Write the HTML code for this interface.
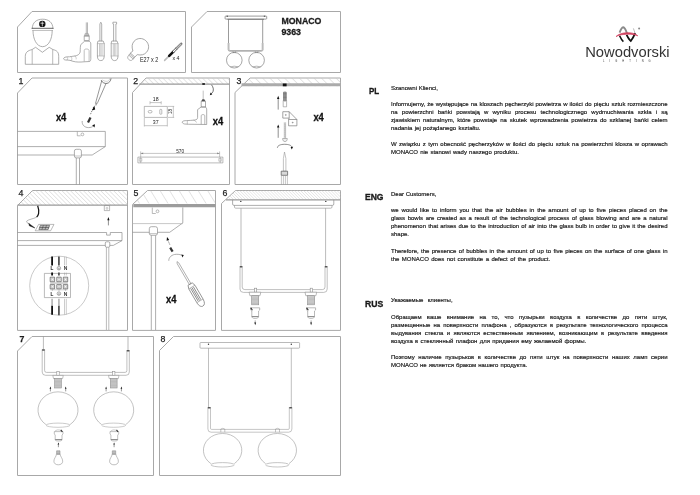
<!DOCTYPE html>
<html><head><meta charset="utf-8">
<style>
html,body{margin:0;padding:0;background:#fff;}
body{width:700px;height:495px;position:relative;overflow:hidden;font-family:"Liberation Sans",sans-serif;color:#222;}
svg{position:absolute;left:0;top:0;will-change:transform;}
.t{will-change:transform;position:absolute;left:390.5px;width:276.5px;font-size:6px;line-height:8px;white-space:nowrap;color:#1a1a1a;-webkit-text-stroke:0.18px #1a1a1a;}
.j{text-align:justify;text-align-last:justify;white-space:normal;}
.h{will-change:transform;position:absolute;font-weight:bold;font-size:9.4px;line-height:10px;color:#111;}
</style></head><body>
<svg width="700" height="495" viewBox="0 0 700 495">
<defs>
<pattern id="hatch" width="3.05" height="3.05" patternUnits="userSpaceOnUse" patternTransform="rotate(-45)">
<line x1="0" y1="0" x2="0" y2="3.05" stroke="#c6c6c6" stroke-width="0.85"/>
</pattern>
<pattern id="hatchB" width="2.15" height="2.15" patternUnits="userSpaceOnUse" patternTransform="rotate(-45)">
<line x1="0" y1="0" x2="0" y2="2.15" stroke="#cfcfcf" stroke-width="0.8"/>
</pattern>
<pattern id="hatchC" width="8.1" height="8.1" patternUnits="userSpaceOnUse" patternTransform="translate(150,190.5) rotate(-31.6)">
<line x1="0" y1="0" x2="0" y2="8.1" stroke="#bdbdbd" stroke-width="0.8"/>
</pattern>
<pattern id="hatchD" width="3.5" height="3.5" patternUnits="userSpaceOnUse" patternTransform="rotate(-45)">
<line x1="0" y1="0" x2="0" y2="3.5" stroke="#c6c6c6" stroke-width="0.9"/>
</pattern>
<pattern id="hatchE" width="5.2" height="5.2" patternUnits="userSpaceOnUse" patternTransform="rotate(-45)">
<line x1="0" y1="0" x2="0" y2="5.2" stroke="#c4c4c4" stroke-width="0.9"/>
</pattern>
</defs>
<g fill="none" stroke="#a8a8a8" stroke-width="1">
<!-- top boxes -->
<path d="M32,11.5 H185.5 V72.5 H17.5 V27 Z"/>
<path d="M207,11.5 H340.5 V72.5 H191.5 V27 Z"/>
<!-- row1 -->
<path d="M32,78 H127.5 V184.5 H17.5 V93 Z"/>
<path d="M146,78 H229.5 V184.5 H132.5 V92.5 Z"/>
<path d="M250,78 H340.5 V184.5 H235 V92.5 Z"/>
<!-- row2 -->
<path d="M32.5,190.5 H127.5 V330.4 H17.5 V205.5 Z"/>
<path d="M147.5,190.5 H215.5 V330.4 H132.5 V204.5 Z"/>
<path d="M235.5,190.5 H340.5 V330.4 H221.5 V203.5 Z"/>
<!-- row3 -->
<path d="M32,336.5 H153.5 V475.5 H17.5 V351 Z"/>
<path d="M173.5,336.5 H340.5 V475.5 H159.5 V350.5 Z"/>
</g>
<!-- ===== TOP BOX 1 ICONS ===== -->
<g fill="none" stroke="#8c8c8c" stroke-width="0.7" stroke-linejoin="round" stroke-linecap="round">
<!-- worker -->
<path d="M32.3,28.3 C32.3,22.5 36.5,19.2 42.6,19.2 C48.7,19.2 52.9,22.5 52.9,28.3"/>
<path d="M32,28.3 H53.2" stroke="#555" stroke-width="0.9"/><path d="M32.6,30.5 H52.6" stroke="#999" stroke-width="0.6"/>
<path d="M33,30.8 C33,39 36.5,46.5 42.6,46.7 C48.7,46.5 52.2,39 52.2,30.8"/>
<path d="M25.3,63.9 V56.5 C25.3,52.3 27.8,50.6 32,49.6 L35.6,47.3 L42.4,52.3 L49.2,47.3 L53,49.6 C57.2,50.6 58.7,52.3 58.7,56.5 V63.9 Z"/>
<path d="M32.2,50 V63.9 M52.7,50 V63.9" stroke-width="0.6"/>
<circle cx="42.3" cy="23.9" r="3.2" fill="#111" stroke="none"/>
<path d="M42.3,21.8 V26 M40.8,23.2 H43.8" stroke="#fff" stroke-width="0.7"/>
<!-- drill -->
<path d="M86.3,22.8 V33.3 M87.5,22.8 V33.3" stroke="#999"/>
<path d="M85.6,33.4 H88.2 L89.2,36 H84.6 Z" fill="#bbb" stroke-width="0.5"/>
<path d="M84.6,36 H89.2 V40.6 H84.6 Z"/>
<path d="M84.4,41.4 L80.8,44.6 C80.3,46 80.2,49 80.2,52 C79.5,54.5 77.5,55.5 75,56 C72,56.2 70,57 68,56.8 C65.5,56.8 63.8,57.5 63.6,58.6 C63.6,59.6 65,60.2 67,60 C69,60 71,60.5 73,61.3 C76,62.2 80,62.2 84,61.8 L89.5,61.5 C90.5,61.3 90.8,60 90.8,58.5 V44 C90.8,42.6 90.3,41.8 89.5,41.4 Z"/>
<path d="M84.2,61 V50.5 C84.2,49.5 85,49 86.5,49 C88,49 89.1,49.6 89.1,50.8 V61" stroke-width="0.55"/>
<path d="M67,57.2 C68,58.2 68,59.2 67,60 M71,56.6 C72.2,57.6 72.2,59.6 71.2,60.6 M75,56 C76,57 76.4,58 76.2,59" stroke-width="0.45"/>
<!-- screwdriver 1 (phillips) -->
<path d="M99.9,41 V24 L100.8,22.2 L101.7,24 V41"/>
<path d="M98.4,41 H103.2 L104.2,43.6 V56 C104.2,59 103,60.6 100.8,60.6 C98.6,60.6 97.4,59 97.4,56 V43.6 Z"/>
<path d="M97.4,43.6 H104.2 M97.4,56 H104.2 M99.5,44 V55.5 M100.8,44 V55.5 M102.1,44 V55.5" stroke-width="0.45"/>
<!-- screwdriver 2 (flat) -->
<path d="M113.6,41 V24 H112.9 V22.2 H116.6 V24 H115.9 V41"/>
<path d="M112.2,41 H117 L118,43.6 V56 C118,59 116.8,60.6 114.6,60.6 C112.4,60.6 111.2,59 111.2,56 V43.6 Z"/>
<path d="M111.2,43.6 H118 M111.2,56 H118 M113.3,44 V55.5 M114.6,44 V55.5 M115.9,44 V55.5" stroke-width="0.45"/>
<!-- bulb -->
<g transform="translate(140.1,47) rotate(42)">
<path d="M-3,7.6 C-6.5,5.6 -8.3,3 -8.3,-0.3 C-8.3,-5 -4.6,-8.5 0,-8.5 C4.6,-8.5 8.3,-5 8.3,-0.3 C8.3,3 6.5,5.6 3,7.6 L2.8,11 H-2.8 Z"/>
<path d="M-2.8,11 V14.6 C-2.8,16.2 -1.5,16.9 0,16.9 C1.5,16.9 2.8,16.2 2.8,14.6 V11 M-2.8,12.3 H2.8 M-2.8,13.6 H2.8" stroke-width="0.6"/>
</g>
<!-- anchor/screw -->
<path d="M164.6,60.4 L169.4,55.6" stroke="#bbb" stroke-width="1.5"/>
<path d="M169.2,55.8 L173.2,51.8" stroke="#111" stroke-width="2.6"/>
<path d="M173.4,51.6 L176.6,48.4" stroke="#333" stroke-width="2.4"/>
<path d="M173.5,51.5 L176.5,48.5" stroke="#fff" stroke-width="1.2"/>
<path d="M176.6,48.4 L181.2,43.8" stroke="#555" stroke-width="2.4"/>
<path d="M176.6,48.4 L181.2,43.8" stroke="#bbb" stroke-width="1.6" stroke-dasharray="0.5,0.9"/>
</g>
<g font-family="Liberation Sans" font-size="6.6" fill="#222">
<text x="139.9" y="61.9" textLength="18.3" lengthAdjust="spacingAndGlyphs">E27 x 2</text>
<text x="172.4" y="59.9" font-size="5.4" textLength="7" lengthAdjust="spacingAndGlyphs">x 4</text>
</g>

<!-- ===== TOP BOX 2 LAMP ===== -->
<g fill="none" stroke="#707070" stroke-width="0.7">
<rect x="225.1" y="16.1" width="41.6" height="3" rx="0.6"/>
<path d="M227.5,19.3 H264" stroke="#777" stroke-width="0.9"/>
<path d="M228.5,19.3 V43 M262.7,19.3 V43"/>
<path d="M228.1,43 V49.5 Q228.1,51.3 230,51.3 H261.2 Q263.1,51.3 263.1,49.5 V43 M229,43 V49.5 Q229,50.5 230,50.5 H261.2 Q262.2,50.5 262.2,49.5 V43" stroke-width="0.5"/>
<circle cx="234.3" cy="60.2" r="7.8" stroke="#808080"/>
<circle cx="256.6" cy="60.2" r="7.8" stroke="#808080"/>
<path d="M230.3,66.8 Q234.3,65.6 238.3,66.8 M252.6,66.8 Q256.6,65.6 260.6,66.8" stroke-width="0.5"/>
<path d="M233,51.3 V52.6 H235.6 V51.3 M255.3,51.3 V52.6 H257.9 V51.3" stroke-width="0.5"/>
</g>
<rect x="226.6" y="15.7" width="1.4" height="1" fill="#444"/>
<rect x="263.8" y="15.7" width="1.4" height="1" fill="#444"/>

<!-- ===== LOGO ===== -->
<g>
<path d="M619.6,32.6 C620.6,29.8 621.8,27.4 623.2,27.2 C624.8,27.4 626,30.2 627.2,33.8" fill="none" stroke="#8a8a8a" stroke-width="1.9"/>
<path d="M619.6,35.8 C620.8,38.5 622,40.5 623.4,41.6" fill="none" stroke="#111" stroke-width="1.6"/>
<path d="M626.6,34.8 C628,37.5 629.5,40 630.8,41 C632.5,39 634,36 635.2,33.2" fill="none" stroke="#111" stroke-width="1.8"/>
<path d="M635,33.4 C634.6,31.6 634,30 633.4,28.4" fill="none" stroke="#999" stroke-width="0.7"/>
<path d="M616,36.6 C620,32 633,31 637.8,35.8 C633,33.4 621,33.6 616,36.6 Z" fill="#d0405e" stroke="#d0405e" stroke-width="0.7"/>
<circle cx="639.1" cy="28.4" r="1" fill="#888"/>
<text x="585.2" y="57" font-family="Liberation Sans" font-size="13.8" fill="#333" textLength="84.4" lengthAdjust="spacingAndGlyphs">Nowodvorski</text>
<text x="603" y="62.2" font-family="Liberation Sans" font-size="2.6" fill="#333" textLength="47.6" lengthAdjust="spacing">LIGHTING</text>
</g>

<!-- ===== CEILINGS (hatched) ===== -->
<g stroke="none">
<path d="M139.6,84.3 L146,78 H229.5 V84.3 Z" fill="url(#hatchD)"/>
<path d="M241.8,86.3 L250,78 H340.5 V86.3 Z" fill="url(#hatchE)"/>
<path d="M17.5,205.3 L32.5,190.5 H127.5 V205.3 Z" fill="url(#hatch)"/>
<path d="M133.9,203.5 L147.5,190.5 H215.5 V203.5 Z" fill="url(#hatchC)"/>
<path d="M226.3,199.8 L235.5,190.5 H340.5 V199.8 Z" fill="url(#hatchB)"/>
</g>
<g fill="none" stroke="#9a9a9a">
<path d="M139.3,84.2 H229.5" stroke-width="1.2"/>
<path d="M241.5,84.8 H340.5" stroke-width="3" stroke="#ababab"/>
<path d="M17.5,205.2 H127.5" stroke-width="1.3"/>
<path d="M133.3,205.6 H215.5" stroke-width="3.4" stroke="#9c9c9c"/>
<path d="M226,199.8 H340.5" stroke-width="1.3"/>
</g>

<!-- ===== PANEL 1 ===== -->
<g fill="none" stroke="#8c8c8c" stroke-width="0.7" stroke-linejoin="round">
<path d="M17.5,131.4 H105.3 V146.6 L92.2,155 H17.5"/>
<path d="M17.5,146.6 H105.3"/>
<path d="M77.3,131.6 V135.8 H80.6" stroke-width="0.6"/>
<circle cx="82.4" cy="134.4" r="1.4" stroke-width="0.6"/>
<rect x="74.4" y="149.3" width="7" height="8.6" rx="1.8" fill="#fff"/>
<path d="M74.4,156 H81.4" stroke-width="0.5"/>
<path d="M76.3,157.9 V184.5 M79.5,157.9 V184.5"/>
<!-- screwdriver -->
<path d="M101.8,80.5 L95.5,103.3 M106.1,83.3 L97.6,102.7" stroke="#6a6a6a" stroke-width="0.7"/>
<path d="M95.5,103.3 L97.6,102.7 L95.9,105.6 Z" fill="#999" stroke="#999" stroke-width="0.5"/>
<path d="M101.2,80.2 C102.2,82.6 104.8,83.8 107,83.4 C109.2,83 110.8,80.8 111,78.4" stroke="#555" stroke-width="0.75"/>
<path d="M102.6,79.8 C104,81.2 106,81.6 107.6,81.2 C108.8,80.8 109.6,79.6 109.7,78.5" stroke="#aaa" stroke-width="0.5"/>
<path d="M93.6,107 L90.4,114.5" stroke="#222" stroke-width="0.6" stroke-dasharray="1.2,1"/>
<path d="M94.3,105.6 L92,110.6 L95.2,109.5 Z" fill="#111" stroke="none"/>
<path d="M90.5,117.6 L88,122.5" stroke="#333" stroke-width="2.2"/>
<path d="M82.2,121 C81.8,124.8 84.5,127.6 88.6,127.6 C90.6,127.6 92.3,127 93.4,126"/>
<path d="M95,124.3 L92.2,125.2 L94.5,127.4 Z" fill="#111" stroke="none"/>
</g>
<text x="55.9" y="120.7" font-family="Liberation Sans" font-weight="bold" font-size="10" fill="#111" stroke="#111" stroke-width="0.3" textLength="10.4" lengthAdjust="spacingAndGlyphs">x4</text>

<!-- ===== PANEL 2 ===== -->
<g fill="none" stroke="#8c8c8c" stroke-width="0.6" stroke-linejoin="round">
<rect x="144.3" y="106.4" width="23" height="11" />
<rect x="148.2" y="110.5" width="3.8" height="2.4" rx="1.2"/>
<rect x="159.8" y="109.4" width="2" height="4.8" rx="0.6"/>
<path d="M150,102.6 H161.2 M150,101.2 V104.4 M161.2,101.2 V104.4" stroke-width="0.5"/>
<path d="M144.3,118 V126.5 M167.3,118 V126.5 M144.3,125.7 H167.3" stroke-width="0.5"/>
<path d="M167.8,106.4 H174.2 M167.8,117.4 H174.2 M173.3,106.4 V117.4" stroke-width="0.5"/>
<!-- drill -->
<path d="M203.2,90.6 V99.3" stroke="#999"/>
<path d="M202.4,99.2 H204.3 L205.4,101.3 H201.3 Z" fill="#444" stroke="none"/>
<path d="M201.2,101.2 H205.5 V107 H201.2 Z" stroke="#777"/>
<path d="M201.2,107 L197.6,109.6 V117.5 C197.6,119 196.5,119.8 195,120 C192,120.3 189,120.6 186.5,120.6 C184.5,120.6 183,120.9 182.3,121.8 C182,122.8 183,123.6 184.5,124 C187,124.4 190,124.2 193,124.3 L206.7,124.5 V108.8 L205.5,107 Z" stroke="#777"/>
<path d="M201.2,124.3 V115.8 C201.2,115 202,114.6 203,114.6 C204,114.6 204.8,115 204.8,115.8 V124.3" stroke="#777" stroke-width="0.55"/>
<path d="M187.3,120.6 V124.3 M193.5,120.2 C195,120.5 196,121.5 196.5,122.5" stroke-width="0.5"/>
<path d="M211.5,84.8 C213.2,87 213.8,89.5 213,91.5 C212.5,92.8 211.6,93.6 210.8,94" stroke="#333" stroke-width="0.7"/>
<path d="M209.8,95.2 L210.5,92.6 L212.3,94.4 Z" fill="#222" stroke="none"/>
<!-- bar 570 -->
<rect x="137.9" y="157.1" width="85" height="5.8"/>
<path d="M140.7,157.1 V162.9 M220.2,157.1 V162.9" stroke-width="0.5"/>
<rect x="139.3" y="158.4" width="2.5" height="2.8" stroke-width="0.45"/>
<rect x="218.8" y="158.4" width="2.5" height="2.8" stroke-width="0.45"/>
<path d="M140.7,153.4 H219.6 M140.7,151.4 V157 M219.6,151.4 V157" stroke-width="0.5"/>
<path d="M140.7,153.4 L143.2,152.6 V154.2 Z M219.6,153.4 L217.1,152.6 V154.2 Z" fill="#888" stroke="none"/>
</g>
<rect x="202.3" y="83.2" width="2.6" height="1.6" fill="#111"/>
<g font-family="Liberation Sans" font-size="5.6" fill="#222">
<text x="152.8" y="100.9" textLength="5.8" lengthAdjust="spacingAndGlyphs">18</text>
<text x="152.8" y="123.8" textLength="5.8" lengthAdjust="spacingAndGlyphs">37</text>
<text x="176.2" y="153" font-size="5.2" textLength="8" lengthAdjust="spacingAndGlyphs">570</text>
<text transform="translate(172.1,114) rotate(-90)" font-size="4.8" textLength="5.2" lengthAdjust="spacingAndGlyphs">18</text>
</g>
<text x="212.8" y="124.7" font-family="Liberation Sans" font-weight="bold" font-size="10" fill="#111" stroke="#111" stroke-width="0.3" textLength="10.4" lengthAdjust="spacingAndGlyphs">x4</text>

<!-- ===== PANEL 3 ===== -->
<g fill="none" stroke="#8c8c8c" stroke-width="0.6" stroke-linejoin="round">
<path d="M283.6,92 H286.2 V101 H283.6 Z" fill="#aaa" stroke="#666"/>
<path d="M283.2,93.4 H286.6 M283.2,94.8 H286.6 M283.2,96.2 H286.6 M283.2,97.6 H286.6 M283.2,99 H286.6" stroke-width="0.5" stroke="#555"/>
<path d="M283.2,100.5 H286.6 V106.8 H283.2 Z"/>
<path d="M278.2,109.6 V97.6" stroke="#333" stroke-width="0.55"/>
<path d="M278.2,95.8 L277,99 H279.4 Z" fill="#111" stroke="none"/>
<rect x="282.8" y="111.7" width="6.4" height="6.4" stroke="#666"/>
<path d="M289.2,111.7 L296.9,119.5 V125.8 H288.6 V119.5 H296.9 M289.2,118.1 L288.6,119.5" stroke="#666"/>
<circle cx="285.8" cy="114.9" r="0.5" fill="#999"/>
<circle cx="292.7" cy="122.6" r="0.5" fill="#999"/>
<path d="M278.2,137.8 V126" stroke="#333" stroke-width="0.55"/>
<path d="M278.2,124.4 L277,127.6 H279.4 Z" fill="#111" stroke="none"/>
<path d="M284.3,122.3 V138.5 M285.6,122.3 V138.5" stroke="#999"/>
<path d="M284.3,124 L285.6,125 M284.3,126 L285.6,127 M284.3,128 L285.6,129 M284.3,130 L285.6,131 M284.3,132 L285.6,133 M284.3,134 L285.6,135 M284.3,136 L285.6,137" stroke-width="0.4"/>
<path d="M282.6,138.5 H287.3 C287.3,140.6 286.3,141.6 285,141.6 C283.6,141.6 282.6,140.6 282.6,138.5 Z" fill="#eee"/>
<path d="M277.4,147.8 C277.4,145.6 280.4,144.3 284.6,144.3 C288.8,144.3 291.6,145.4 291.9,147.2" stroke="#444"/>
<path d="M290.6,147 L293.1,146.8 L291.8,149.4 Z" fill="#111" stroke="none"/>
<!-- vertical screwdriver -->
<path d="M284.5,152 L283.4,158.6 V171.2 H285.9 V158.6 Z" stroke="#999"/>
<path d="M281.2,171.2 H287.6 V175.3 H281.2 Z" fill="#d8d8d8" stroke="#555" stroke-width="0.7"/>
<path d="M281.4,175.3 V184.5 M287.4,175.3 V184.5 M283.4,175.6 V184.5 M285.4,175.6 V184.5" stroke-width="0.5"/>
</g>
<rect x="282.8" y="83.5" width="3.8" height="2.8" fill="#111"/>
<text x="313.4" y="120.6" font-family="Liberation Sans" font-weight="bold" font-size="10" fill="#111" stroke="#111" stroke-width="0.3" textLength="10.4" lengthAdjust="spacingAndGlyphs">x4</text>

<!-- ===== PANEL 4 ===== -->
<g fill="none" stroke="#8c8c8c" stroke-width="0.7" stroke-linejoin="round">
<path d="M17.5,232.5 H106.6 V235.1 H110.3 V232.5 H122 V240.6 L113.3,245.4 H17.5"/>
<path d="M17.5,240.6 H122"/>
<rect x="104.3" y="205.6" width="5.3" height="5" stroke-width="0.6"/>
<rect x="106.2" y="207.6" width="1.6" height="1.6" stroke-width="0.4"/>
<path d="M108.4,225.4 V219" stroke="#333" stroke-width="0.55"/>
<path d="M108.4,217 L107.3,220.2 H109.5 Z" fill="#111" stroke="none"/>
<rect x="105.3" y="241.8" width="4.5" height="5.4" rx="1.2" fill="#fff"/>
<path d="M106.4,247.2 V330 M108.8,247.2 V330" stroke-width="0.6"/>
<!-- wire from ceiling -->
<path d="M37.7,205.8 C38.6,208.5 39.2,211 38.6,213.5 C38.2,215.2 37.5,216.3 36.6,217.2" stroke="#111" stroke-width="1.2"/>
<path d="M36.6,217.2 C33,219 28.5,219.4 26.8,221 C26,222.2 27.5,223.2 29.2,223.8" stroke="#888" stroke-width="0.6"/>
<path d="M28.8,223.4 L34.8,227.9 L29.4,225.8 Z" fill="#111" stroke="#111" stroke-width="0.5"/>
<path d="M35.2,230.8 L38.6,224.4 H54 L50.6,230.8 Z" stroke-width="0.6"/>
<path d="M40.3,225.4 H49.6 L48.1,229.6 H38.9 Z" stroke="#444" stroke-width="0.6" fill="#bbb"/>
<path d="M43.4,225.4 L41.9,229.6 M46.5,225.4 L45,229.6 M39.6,227.5 H48.9" stroke="#333" stroke-width="0.5"/>
<!-- detail circle -->
<circle cx="59.2" cy="285.7" r="29.5" stroke="#a6a6a6" stroke-width="0.6"/>
<rect x="44.4" y="273.4" width="26.1" height="24.2" stroke-width="0.6"/>
<g stroke="#444" stroke-width="0.65" fill="#fff">
<rect x="50.2" y="277.2" width="4.4" height="4.5"/><rect x="56.8" y="277.2" width="4.4" height="4.5"/><rect x="63.3" y="277.2" width="4.4" height="4.5"/>
<rect x="50.2" y="284.6" width="4.4" height="4.2"/><rect x="56.8" y="284.6" width="4.4" height="4.2"/><rect x="63.3" y="284.6" width="4.4" height="4.2"/>
</g>
<g stroke="#888" stroke-width="0.4">
<rect x="51.4" y="278.4" width="2" height="2"/><rect x="58" y="278.4" width="2" height="2"/><rect x="64.5" y="278.4" width="2" height="2"/>
<rect x="51.4" y="285.7" width="2" height="2"/><rect x="58" y="285.7" width="2" height="2"/><rect x="64.5" y="285.7" width="2" height="2"/>
<path d="M50.2,283.2 H67.7 M50.2,289.8 H67.7 M52.4,288.8 V291 M59,288.8 V291 M65.5,288.8 V291"/>
</g>
<path d="M50.2,282.9 H67.7" stroke-width="0.4"/>
<!-- wires -->
<path d="M52.1,256.6 V265.4 M52.1,272.6 V275.4 M52.1,305.6 V314.8" stroke="#111" stroke-width="1.8"/>
<path d="M52.1,298.8 V305.6" stroke="#bbb" stroke-width="1.8"/>
<path d="M58.9,256.4 V265.4 M58.9,272.6 V275.4 M58.9,305.6 V315.2" stroke="#555" stroke-width="1.8"/>
<path d="M58.9,298.8 V305.6" stroke="#bbb" stroke-width="1.8"/>
<path d="M64.5,256.8 V265.4 M66.3,256.8 V265.4 M64.5,298.8 V314.6 M66.3,298.8 V314.6 M64.5,272.6 V275.4 M66.3,272.6 V275.4" stroke="#999" stroke-width="0.5"/>
<circle cx="58.9" cy="268.2" r="1.8" stroke="#666" stroke-width="0.5"/>
<circle cx="58.9" cy="293.6" r="1.8" stroke="#666" stroke-width="0.5"/>
<path d="M57.6,268.6 H60.2 M58,269.3 H59.8 M58.9,266.8 V268.6 M57.6,294 H60.2 M58,294.7 H59.8 M58.9,292.2 V294" stroke="#666" stroke-width="0.35"/>
</g>
<g font-family="Liberation Sans" font-size="5" fill="#222" stroke="#222" stroke-width="0.15">
<text x="50.6" y="270.2">L</text><text x="63.8" y="270.2">N</text>
<text x="50.6" y="295.7">L</text><text x="63.8" y="295.7">N</text>
</g>

<!-- ===== PANEL 5 ===== -->
<g fill="none" stroke="#8c8c8c" stroke-width="0.7" stroke-linejoin="round">
<path d="M182.8,207.4 V222.9 L169.7,232.3 H132.5"/>
<path d="M132.5,223.6 H182.8" stroke="#b0b0b0"/>
<path d="M152.3,207.6 V213.5 H155.8" stroke-width="0.6"/>
<circle cx="157.5" cy="211.3" r="1.4" stroke-width="0.6"/>
<rect x="149.3" y="226.7" width="8.2" height="8.6" rx="2" fill="#fff"/>
<path d="M149.3,233.6 H157.5" stroke-width="0.5"/>
<path d="M151.3,235.3 V330 M155.6,235.3 V330"/>
<path d="M169.8,244.6 L167.8,240" stroke="#222" stroke-width="0.6" stroke-dasharray="1.2,0.9"/>
<path d="M167,237 L166.6,240.8 L169.2,239.8 Z" fill="#111" stroke="none"/>
<path d="M170.2,247.6 L172.6,251.6" stroke="#333" stroke-width="2.2"/>
<path d="M168.8,260.8 C168.6,257.2 172,254.4 176.2,254.3 C179,254.2 181.3,254.8 182.4,255.6"/>
<path d="M183.8,255 L181.4,254.6 L182.4,257.6 Z" fill="#111" stroke="none"/>
<!-- screwdriver -->
<g transform="translate(177,261.6) rotate(-30.3)">
<path d="M0,0 L-0.9,2 V26 H0.9 V2 Z" stroke="#999"/>
<path d="M-2.4,26 H2.4 L3.6,29.5 V45.5 C3.6,49.4 2,51.5 0,51.5 C-2,51.5 -3.6,49.4 -3.6,45.5 V29.5 Z" stroke="#777"/>
<path d="M-3.6,29.5 H3.6 M-3.6,45.5 H3.6" stroke-width="0.5"/>
<path d="M-1.7,30 V45 M-0.2,30 V45 M1.4,30 V45" stroke="#555" stroke-width="0.6"/>
</g>
</g>
<text x="166.1" y="303" font-family="Liberation Sans" font-weight="bold" font-size="10" fill="#111" stroke="#111" stroke-width="0.3" textLength="10.4" lengthAdjust="spacingAndGlyphs">x4</text>

<!-- ===== PANEL 6 ===== -->
<g fill="none" stroke="#8c8c8c" stroke-width="0.7" stroke-linejoin="round">
<path d="M232.6,199.9 V204 Q232.6,205.4 234,205.4 H332.4 Q333.8,205.4 333.8,204 V199.9"/>
<path d="M234.5,205.4 V207 Q234.5,208.2 235.7,208.2 H330.8 Q332,208.2 332,207 V205.4" stroke-width="0.6"/>
<path d="M241,208.2 V266 M325.6,208.2 V266" stroke-width="0.6"/>
<path d="M240,266 V289 Q240,292.4 243.4,292.4 H323.8 Q327.2,292.4 327.2,289 V266 M242.2,266 V287 Q242.2,289.6 244.8,289.6 H322.4 Q325,289.6 325,287 V266" stroke-width="0.55"/>
<path d="M239.9,266.8 H242.3 M324.9,266.8 H327.3" stroke="#555" stroke-width="1.4"/>
</g>
<circle cx="240.8" cy="201.4" r="0.7" fill="#333"/>
<circle cx="325.8" cy="201.4" r="0.7" fill="#333"/>
<g id="sock6" fill="none" stroke="#8c8c8c" stroke-width="0.6">
<rect x="254.3" y="288.2" width="2.4" height="4" fill="#fff"/>
<path d="M249.1,292.2 H260.8 L260,295.7 H249.9 Z" fill="#fff"/>
<rect x="251.7" y="295.7" width="7" height="9.1" fill="#d6d6d6"/>
<path d="M251.7,297 H258.7 M251.7,298.3 H258.7 M251.7,299.6 H258.7 M251.7,300.9 H258.7 M251.7,302.2 H258.7 M251.7,303.5 H258.7" stroke="#999" stroke-width="0.4"/>
<path d="M250.6,307.8 H259.7 V310 L258.6,311 V316.5 C258.6,317.6 257.6,318.4 255.2,318.4 C252.8,318.4 251.8,317.6 251.8,316.5 V311 L250.6,310 Z"/>
<path d="M251.8,316.6 H258.6" stroke="#777" stroke-width="0.9"/>
<path d="M250.7,307.8 L252.4,310.2" stroke="#222" stroke-width="1.1"/>
<path d="M255.2,320.4 V323" stroke="#555" stroke-width="0.5"/>
<path d="M255.2,325.2 L254.3,322.4 H256.1 Z" fill="#111" stroke="none"/>
</g>
<use href="#sock6" transform="translate(55.9,0)"/>

<!-- ===== PANEL 7 ===== -->
<g fill="none" stroke="#8c8c8c" stroke-width="0.6" stroke-linejoin="round">
<path d="M43.4,336.5 V349.4 M128,336.5 V350.2"/>
<path d="M42.2,349.4 V372 Q42.2,375.3 45.5,375.3 H126 Q129.3,375.3 129.3,372 V350.2 M44.6,349.4 V370.5 Q44.6,372.4 46.5,372.4 H125 Q126.9,372.4 126.9,370.5 V350.2" stroke-width="0.55"/>
<path d="M42.1,350 H44.7 M126.8,350.8 H129.4" stroke="#555" stroke-width="1.4"/>
</g>
<g id="sock7" fill="none" stroke="#8c8c8c" stroke-width="0.55">
<rect x="56.8" y="371.4" width="2.4" height="4" fill="#fff"/>
<path d="M52.8,375.4 H63.3 L62.6,378.6 H53.5 Z" fill="#fff"/>
<rect x="54.6" y="378.6" width="6.8" height="9.4" fill="#d0d0d0"/>
<path d="M54.6,380 H61.4 M54.6,381.4 H61.4 M54.6,382.8 H61.4 M54.6,384.2 H61.4 M54.6,385.6 H61.4 M54.6,387 H61.4" stroke="#999" stroke-width="0.4"/>
<path d="M50.4,391.4 V388.4 M65.7,391.4 V388.4" stroke="#333" stroke-width="0.5"/>
<path d="M50.4,386.6 L49.6,388.8 H51.2 Z M65.7,386.6 L64.9,388.8 H66.5 Z" fill="#111" stroke="none"/>
<path d="M46,424.6 A20,18.2 0 1,1 70,424.6" stroke="#9a9a9a" stroke-width="0.6"/>
<ellipse cx="58" cy="425.2" rx="12" ry="2.1" stroke="#a0a0a0" stroke-width="0.55"/>
<path d="M54.3,431.6 H63 V434 L62,435 V439.6 C62,440.6 61,441 58.6,441 C56.2,441 55.2,440.6 55.2,439.6 V435 L54.3,434 Z"/>
<path d="M55.2,439.6 H62" stroke="#777" stroke-width="0.9"/>
<path d="M54.8,431.4 C56,429.8 58.6,429.4 61.4,430.6" stroke-width="0.45"/><path d="M60.8,429.8 L62.4,431.8" stroke="#333" stroke-width="1.1"/>
<path d="M58.4,447.2 V444.2" stroke="#333" stroke-width="0.5"/>
<path d="M58.4,442.4 L57.6,444.6 H59.2 Z" fill="#111" stroke="none"/>
<path d="M56.6,450.8 H60 V454.2 H56.6 Z" fill="#bbb"/>
<path d="M56.4,454.2 C56.4,456.6 53.9,458.2 53.9,461.2 C53.9,463.6 55.9,464.8 58.3,464.8 C60.7,464.8 62.7,463.6 62.7,461.2 C62.7,458.2 60.2,456.6 60.2,454.2 Z"/>
</g>
<use href="#sock7" transform="translate(55.7,0)"/>

<!-- ===== PANEL 8 ===== -->
<g fill="none" stroke="#8c8c8c" stroke-width="0.6" stroke-linejoin="round">
<rect x="200" y="342.5" width="99.6" height="5.7" rx="0.8"/>
<path d="M208.5,348.2 V407.1 M291.3,348.2 V407.1" stroke-width="0.55"/>
<path d="M207.9,407.1 V429 Q207.9,432.2 211.1,432.2 H288.7 Q291.9,432.2 291.9,429 V407.1 M210.5,407.1 V428.3 Q210.5,429.4 211.6,429.4 H288.2 Q289.3,429.4 289.3,428.3 V407.1" stroke-width="0.5"/>
<path d="M207.9,407.8 H210.5 M289.3,407.8 H291.9" stroke="#555" stroke-width="1.4"/>
<path d="M220.8,432.2 V429 Q222.8,427.6 224.8,429 V432.2" stroke-width="0.5"/>
<path d="M275.5,432.2 V429 Q277.5,427.6 279.5,429 V432.2" stroke-width="0.5"/>
<path d="M210.9,463.6 A19.2,16.8 0 1,1 234.3,463.6" stroke="#9a9a9a"/>
<ellipse cx="222.6" cy="464.8" rx="11.7" ry="2.2" stroke="#a0a0a0" stroke-width="0.6"/>
<path d="M265.6,463.6 A19.2,16.8 0 1,1 289,463.6" stroke="#9a9a9a"/>
<ellipse cx="277.3" cy="464.8" rx="11.7" ry="2.2" stroke="#a0a0a0" stroke-width="0.6"/>
</g>
<circle cx="208.5" cy="344.2" r="0.7" fill="#333"/>
<circle cx="291.3" cy="344.2" r="0.7" fill="#333"/>

<!-- labels -->
<g font-family="Liberation Sans" font-size="8.8" fill="#1e1e1e" stroke="#1e1e1e" stroke-width="0.25">
<text x="18.6" y="83.8">1</text>
<text x="133.3" y="83.8">2</text>
<text x="236.4" y="83.8">3</text>
<text x="18.6" y="195.9">4</text>
<text x="133.6" y="195.9">5</text>
<text x="222.4" y="196.2">6</text>
<text x="19.6" y="341.8" font-weight="bold">7</text>
<text x="160.6" y="341.9">8</text>
</g>
<!-- MONACO -->
<g font-family="Liberation Sans" font-weight="bold" font-size="9" fill="#1a1a1a">
<text x="281.4" y="24.2" font-size="9.6" stroke="#1a1a1a" stroke-width="0.3" textLength="40" lengthAdjust="spacingAndGlyphs">MONACO</text>
<text x="281.4" y="35.2" font-size="9.6" stroke="#1a1a1a" stroke-width="0.3" textLength="19.6" lengthAdjust="spacingAndGlyphs">9363</text>
<text x="369" y="93.9" font-size="9.5" stroke="#1a1a1a" stroke-width="0.35" textLength="10.2" lengthAdjust="spacingAndGlyphs">PL</text>
<text x="365" y="199.6" font-size="9.1" stroke="#1a1a1a" stroke-width="0.35" textLength="18.5" lengthAdjust="spacingAndGlyphs">ENG</text>
<text x="365" y="306.7" font-size="9.6" stroke="#1a1a1a" stroke-width="0.35" textLength="18.3" lengthAdjust="spacingAndGlyphs">RUS</text>
</g>
</svg>


<!-- PL text: baselines 89.7,105.8,113.9,122,130.1,146.3,154.4 -->
<div class="t" style="top:83.5px">Szanowni Klienci,</div>
<div class="t j" style="top:99.6px">Informujemy, że występujące na kloszach pęcherzyki powietrza w ilości do pięciu sztuk rozmieszczone</div>
<div class="t j" style="top:107.7px">na powierzchni bańki powstają w wyniku procesu technologicznego wydmuchiwania szkła i są</div>
<div class="t j" style="top:115.8px">zjawiskiem naturalnym, które powstaje na skutek wprowadzenia powietrza do szklanej bańki celem</div>
<div class="t j" style="top:123.9px;width:89.5px">nadania jej pożądanego kształtu.</div>
<div class="t j" style="top:140.1px">W związku z tym obecność pęcherzyków w ilości do pięciu sztuk na powierzchni klosza w oprawach</div>
<div class="t j" style="top:148.2px;width:128px">MONACO nie stanowi wady naszego produktu.</div>

<!-- ENG: 195.5,211.6,219.7,227.7,235.8,252.4,260.8 -->
<div class="t" style="top:189.8px">Dear Customers,</div>
<div class="t j" style="top:205.9px">we would like to inform you that the air bubbles in the amount of up to five pieces placed on the</div>
<div class="t j" style="top:214.0px">glass bowls are created as a result of the technological process of glass blowing and are a natural</div>
<div class="t j" style="top:222.1px">phenomenon that arises due to the introduction of air into the glass bulb in order to give it the desired</div>
<div class="t" style="top:230.2px">shape.</div>
<div class="t j" style="top:246.7px">Therefore, the presence of bubbles in the amount of up to five pieces on the surface of one glass in</div>
<div class="t j" style="top:254.9px;width:159.2px">the MONACO does not constitute a defect of the product.</div>

<!-- RUS: 302.6,318.7,326.8,335.2,343.2,359.7,367.4 -->
<div class="t j" style="top:296.4px;width:61.6px">Уважаемые клиенты,</div>
<div class="t j" style="top:312.5px">Обращаем ваше внимание на то, что пузырьки воздуха в количестве до пяти штук,</div>
<div class="t j" style="top:320.7px">размещенные на поверхности плафона , образуются в результате технологического процесса</div>
<div class="t j" style="top:328.9px">выдувания стекла и являются естественным явлением, возникающим в результате введения</div>
<div class="t j" style="top:337.1px;width:195.3px">воздуха в стеклянный плафон для придания ему желаемой формы.</div>
<div class="t j" style="top:353.3px">Поэтому наличие пузырьков в количестве до пяти штук на поверхности наших ламп серии</div>
<div class="t j" style="top:361.4px;width:136.2px">MONACO не является браком нашего продукта.</div>

</body></html>
